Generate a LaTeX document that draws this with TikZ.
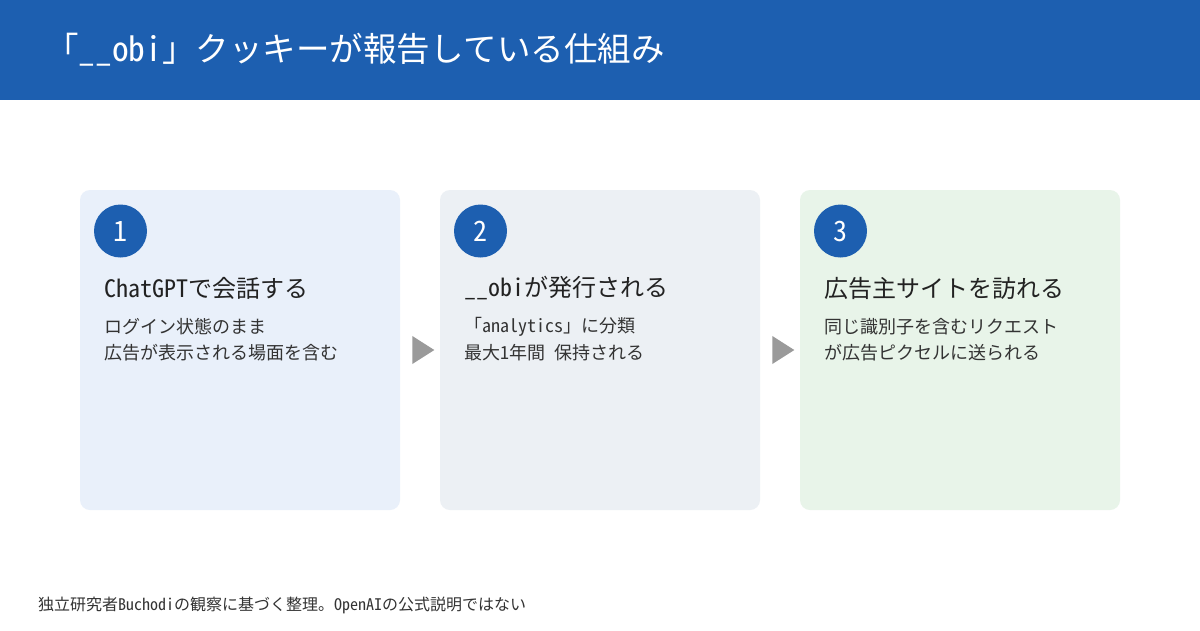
\documentclass[tikz,border=0pt]{standalone}
\usepackage{fontspec}
\setmainfont{Noto Sans Mono CJK JP}
\usetikzlibrary{positioning,shapes.geometric}
\definecolor{headblue}{HTML}{1D5FB0}
\definecolor{cardone}{HTML}{E9F0FA}
\definecolor{cardtwo}{HTML}{ECF0F4}
\definecolor{cardthree}{HTML}{E8F4E9}
\definecolor{arrowgray}{HTML}{9A9A9A}
\definecolor{textdark}{HTML}{222222}
\definecolor{textbody}{HTML}{333333}

\begin{document}
\begin{tikzpicture}[x=1pt, y=-1pt,
            card/.style={minimum width=320pt, minimum height=320pt, rounded corners=10pt, inner sep=0pt},
            num/.style={circle, fill=headblue, minimum size=53pt, inner sep=0pt, text=white, font=\fontsize{28}{32}\selectfont},
            heading/.style={anchor=west, inner sep=0pt, text=textdark, font=\fontsize{24}{28}\selectfont},
            body/.style={anchor=west, inner sep=0pt, align=left, text=textbody, font=\fontsize{18}{26}\selectfont},
            flow/.style={isosceles triangle, isosceles triangle apex angle=65, fill=arrowgray, minimum height=22pt, inner sep=0pt}
        ]
            \useasboundingbox (0,0) rectangle (1200,630);
            \fill[white] (0,0) rectangle (1200,630);

            % Header band
            \fill[headblue] (0,0) rectangle (1200,100);
            \node[anchor=west, inner sep=0pt, text=white, font=\fontsize{33.5}{38}\selectfont] (title) at (45,50) {「\_\_obi」クッキーが報告している仕組み};

            % Step cards
            \node[card, fill=cardone] (card1) at (240,350) {};
            \node[card, fill=cardtwo] (card2) at (600,350) {};
            \node[card, fill=cardthree] (card3) at (960,350) {};

            % Step 1
            \node[num] (num1) at (120.5,231) {1};
            \node[heading] (head1) at (104,288) {ChatGPTで会話する};
            \node[body] (body1a) at (104,327) {ログイン状態のまま};
            \node[body] (body1b) at (104,353) {広告が表示される場面を含む};

            % Step 2
            \node[num] (num2) at (480.5,231) {2};
            \node[heading] (head2) at (464,288) {\_\_obiが発行される};
            \node[body] (body2a) at (464,327) {「analytics」に分類};
            \node[body] (body2b) at (464,353) {最大1年間 保持される};

            % Step 3
            \node[num] (num3) at (840.5,231) {3};
            \node[heading] (head3) at (824,288) {広告主サイトを訪れる};
            \node[body] (body3a) at (824,327) {同じ識別子を含むリクエスト};
            \node[body] (body3b) at (824,353) {が広告ピクセルに送られる};

            % Arrows between cards
            \path (card1.east) -- (card2.west) node[midway, flow] (arrow1) {};
            \path (card2.east) -- (card3.west) node[midway, flow] (arrow2) {};

            % Footnote
            \node[anchor=west, inner sep=0pt, text=textbody, font=\fontsize{16}{18}\selectfont] (note) at (38,605) {独立研究者Buchodiの観察に基づく整理。OpenAIの公式説明ではない};
        \end{tikzpicture}
\end{document}
